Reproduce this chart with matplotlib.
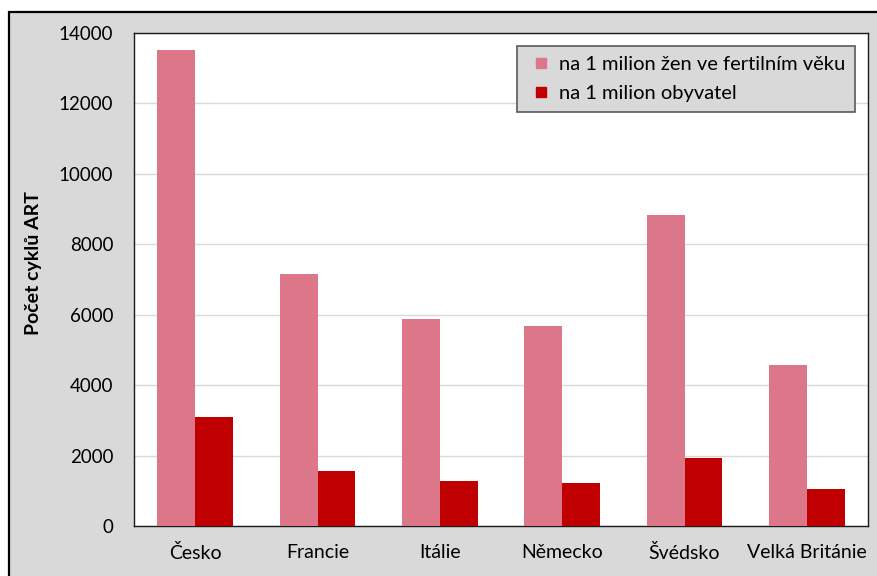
import matplotlib.pyplot as plt
import numpy as np
from matplotlib.patches import Rectangle
from matplotlib.lines import Line2D

plt.rcParams['font.family'] = ['Lato', 'DejaVu Sans']

zeme = ['Česko', 'Francie', 'Itálie', 'Německo', 'Švédsko', 'Velká Británie']
na_zeny = [13520, 7170, 5890, 5680, 8830, 4580]
na_obyv = [3100, 1570, 1280, 1220, 1920, 1050]
rada_zeny = 'na 1 milion žen ve fertilním věku'
rada_obyv = 'na 1 milion obyvatel'
c_zeny = '#dc7789'
c_obyv = '#c00000'

W, H = 877, 576
fig = plt.figure(figsize=(W/100, H/100), dpi=100)
fig.patch.set_facecolor('white')

# grey chart frame, kept below the axes
fig.patches.append(Rectangle((9/W, -0.05), 1.0, (H-12)/H + 0.05, transform=fig.transFigure,
                             facecolor='#d9d9d9', edgecolor='black', lw=1.6, zorder=-5))

ax = fig.add_axes([134/W, 1-526/H, (868-134)/W, (526-33)/H])
ax.set_facecolor('white')

x = np.arange(len(zeme))
w = 0.31
ax.bar(x - w/2, na_zeny, width=w, color=c_zeny, zorder=3)
ax.bar(x + w/2, na_obyv, width=w, color=c_obyv, zorder=3)

ax.set_xlim(-0.5, len(zeme) - 0.5)
ax.set_ylim(0, 14000)
ax.set_yticks(np.arange(0, 14001, 2000))
ax.yaxis.grid(True, color='#d9d9d9', lw=1, zorder=0)
ax.set_axisbelow(True)
ax.set_xticks(x)
ax.set_xticklabels(zeme)
ax.tick_params(axis='both', length=0, colors='black')
ax.tick_params(axis='x', pad=13, labelsize=14)
ax.tick_params(axis='y', pad=15, labelsize=13.5)
for s in ax.spines.values():
    s.set_color('#1a1a1a')
    s.set_linewidth(1.0)

ax.set_ylabel('Počet cyklů ART', fontsize=14, fontweight='bold')
ax.yaxis.set_label_coords(42/W, 1-263/H, transform=fig.transFigure)

handles = [Line2D([], [], ls='', marker='s', ms=7.2, color=c_zeny, label=rada_zeny),
           Line2D([], [], ls='', marker='s', ms=7.2, color=c_obyv, label=rada_obyv)]
leg = ax.legend(handles=handles, loc='upper right', bbox_to_anchor=(855/W, 1-46/H),
                bbox_transform=fig.transFigure, fontsize=14.5, frameon=True, fancybox=False,
                borderaxespad=0, handlelength=1.3, handletextpad=0.25,
                labelspacing=0.6, borderpad=0.5)
leg.get_frame().set_facecolor('#d9d9d9')
leg.get_frame().set_edgecolor('#595959')
leg.get_frame().set_alpha(1)
leg.get_frame().set_linewidth(1.2)

plt.savefig('out.png', dpi=100)
